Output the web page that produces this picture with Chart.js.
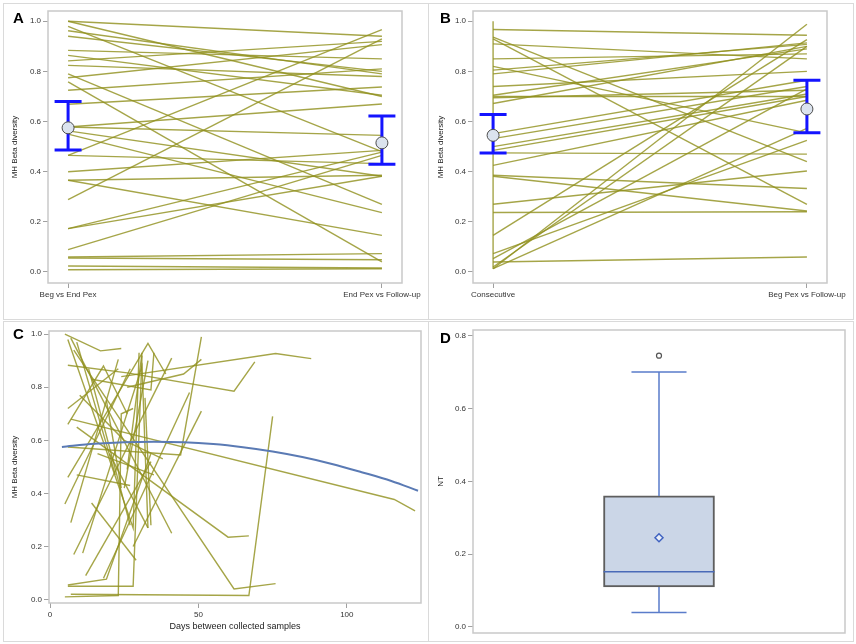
<!DOCTYPE html>
<html>
<head>
<meta charset="utf-8">
<script src="https://cdn.jsdelivr.net/npm/chart.js@4.4.0/dist/chart.umd.min.js"></script>
<style>
  body { margin: 0; background: #fff; font-family: "Liberation Sans", Arial, sans-serif; }
  #fig { position: relative; width: 856px; height: 644px; overflow: hidden; }
  .box { position: absolute; box-sizing: border-box; border: 1px solid #dadada; }
  canvas { position: absolute; }
  .tag { position: absolute; font: bold 15px/15px "Liberation Sans", Arial, sans-serif; color: #000; }
</style>
</head>
<body>
<div id="fig">
  <div class="box" style="left:3px;top:3px;width:426px;height:317px"></div>
  <div class="box" style="left:428px;top:3px;width:426px;height:317px"></div>
  <div class="box" style="left:3px;top:321px;width:426px;height:321px"></div>
  <div class="box" style="left:428px;top:321px;width:426px;height:321px"></div>
  <canvas id="chartA" width="428" height="320" style="left:0;top:0"></canvas>
  <canvas id="chartB" width="428" height="320" style="left:428px;top:0"></canvas>
  <canvas id="chartC" width="428" height="324" style="left:0;top:320px"></canvas>
  <canvas id="chartD" width="428" height="324" style="left:428px;top:320px"></canvas>
  <div class="tag" style="left:13px;top:10px">A</div>
  <div class="tag" style="left:440px;top:10px">B</div>
  <div class="tag" style="left:13px;top:326px">C</div>
  <div class="tag" style="left:440px;top:330px">D</div>
</div>
<script>
// ---- panel A: MH beta diversity, paired comparisons
const aLabels = ["Beg vs End Pex", "End Pex vs Follow-up"];
const aBeg = [1.00, 1.00, 0.98, 0.962, 0.94, 0.884, 0.864, 0.842, 0.824, 0.79, 0.775, 0.758, 0.725, 0.669,
  0.578, 0.578, 0.563, 0.55, 0.465, 0.465, 0.40, 0.366, 0.366, 0.289, 0.173, 0.173, 0.089, 0.06, 0.056, 0.024, 0.009];
const aEnd = [0.94, 0.70, 0.48, 0.79, 0.80, 0.85, 0.705, 0.92, 0.78, 0.27, 0.907, 0.04, 0.81, 0.738,
  0.545, 0.67, 0.382, 0.237, 0.967, 0.432, 0.485, 0.146, 0.386, 0.93, 0.478, 0.382, 0.465, 0.073, 0.049, 0.016, 0.013];
const aMean = [0.575, 0.515];
const aLow = [0.487, 0.43];
const aHigh = [0.68, 0.622];

// ---- panel B
const bLabels = ["Consecutive", "Beg Pex vs Follow-up"];
const bBeg = [0.967, 0.937, 0.93, 0.91, 0.85, 0.82, 0.805, 0.79, 0.74, 0.705, 0.695, 0.672, 0.552, 0.532, 0.50,
  0.485, 0.475, 0.425, 0.386, 0.382, 0.27, 0.237, 0.146, 0.073, 0.053, 0.04, 0.02, 0.013, 0.013, 0.70];
const bEnd = [0.944, 0.44, 0.27, 0.85, 0.87, 0.555, 0.908, 0.914, 0.80, 0.89, 0.725, 0.90, 0.765, 0.74, 0.71,
  0.70, 0.47, 0.685, 0.333, 0.243, 0.403, 0.24, 0.927, 0.525, 0.73, 0.06, 0.90, 0.988, 0.573, 0.70];
const bConsecutiveSpan = [1.0, 0.013];
const bMean = [0.545, 0.65];
const bLow = [0.475, 0.555];
const bHigh = [0.628, 0.765];

// ---- panel C: beta diversity against days between samples
const cDays = [
  [5, 17, 24], [6, 28, 30], [7, 41], [6, 26, 62, 69], [26, 45, 51], [24, 76, 88], [6, 33, 39], [8, 41],
  [6, 28, 31], [5, 23, 24, 28], [7, 67, 75], [9, 60, 67], [8, 62, 76], [6, 44, 51], [28, 51], [7, 116, 123],
  [5, 27], [7, 23], [14, 29], [12, 34], [11, 31, 33], [13, 27], [18, 47], [25, 33], [14, 34, 35], [6, 18, 26],
  [9, 22], [26, 31], [10, 25, 38], [16, 35], [9, 27], [19, 24], [6, 23], [6, 19, 34], [32, 34], [20, 33]
];
const cVals = [
  [1.0, 0.937, 0.946], [0.98, 0.27, 0.93], [0.985, 0.25], [0.883, 0.854, 0.785, 0.896], [0.80, 0.85, 0.905],
  [0.84, 0.927, 0.908], [0.46, 0.965, 0.85], [0.17, 0.91], [0.05, 0.05, 0.92], [0.01, 0.015, 0.70, 0.72],
  [0.02, 0.015, 0.69], [0.65, 0.235, 0.24], [0.94, 0.04, 0.06], [0.575, 0.545, 0.99], [0.2, 0.71],
  [0.68, 0.377, 0.334], [0.36, 0.87], [0.29, 0.905], [0.364, 0.148], [0.09, 0.52], [0.175, 0.88, 0.27],
  [0.87, 0.28], [0.08, 0.78], [0.42, 0.9], [0.83, 0.79, 0.93], [0.66, 0.88, 0.70], [0.97, 0.47], [0.49, 0.93],
  [0.77, 0.6, 0.53], [0.55, 0.47], [0.47, 0.43], [0.75, 0.42], [0.72, 0.87], [0.055, 0.077, 0.55], [0.76, 0.28],
  [0.55, 0.27]
];
const cFitDays = [4, 15, 25, 35, 45, 55, 65, 75, 85, 95, 105, 115, 124];
const cFitVals = [0.575, 0.587, 0.593, 0.595, 0.593, 0.586, 0.574, 0.558, 0.537, 0.511, 0.48, 0.447, 0.41];
const cDayTicks = [0, 50, 100];

// ---- panel D: NT box plot
const ntQ1 = 0.11, ntMedian = 0.152, ntQ3 = 0.36;
const ntWhiskerLow = 0.04, ntWhiskerHigh = 0.70;
const ntMean = 0.245;
const ntOutliers = [0.745];

const betaTicks = [0, 0.2, 0.4, 0.6, 0.8, 1.0];
const ntTicks = [0, 0.2, 0.4, 0.6, 0.8];

const olive = "rgba(145,145,32,0.82)";
const tickFont = { family: "'Liberation Sans', Arial, sans-serif", size: 8 };
const titleFont = { family: "'Liberation Sans', Arial, sans-serif", size: 8 };

const framePlugin = {
  id: "frame",
  beforeDatasetsDraw(chart) {
    const { ctx, chartArea: a } = chart;
    ctx.save();
    ctx.strokeStyle = "#c9c9c9";
    ctx.lineWidth = 1.5;
    ctx.strokeRect(a.left, a.top, a.right - a.left, a.bottom - a.top);
    ctx.restore();
  }
};

function valueAxis(title, min, max, ticks, width) {
  return {
    type: "linear", min, max,
    afterBuildTicks: s => { s.ticks = ticks.map(v => ({ value: v })); },
    afterFit: s => { s.width = width; },
    ticks: { font: tickFont, color: "#333", padding: 2, callback: v => v.toFixed(1) },
    grid: { drawOnChartArea: false, tickLength: 5, color: "#a0a0a0" },
    border: { display: false },
    title: { display: true, text: title, font: titleFont, color: "#222", padding: { top: 4, bottom: 0 } }
  };
}

function pairAxis(labels, height) {
  return {
    type: "linear", min: -0.064, max: 1.064,
    afterBuildTicks: s => { s.ticks = labels.map((l, i) => ({ value: i })); },
    afterFit: s => { s.height = height; },
    ticks: { font: tickFont, color: "#333", padding: 2, maxRotation: 0, autoSkip: false, callback: (v, i) => labels[i] },
    grid: { drawOnChartArea: false, tickLength: 5, color: "#a0a0a0" },
    border: { display: false }
  };
}

function pairDatasets(beg, end) {
  return beg.map((b, i) => ({
    data: [{ x: 0, y: b }, { x: 1, y: end[i] }],
    borderColor: olive, borderWidth: 1.4, pointRadius: 0, order: 10
  }));
}

function errorBarDatasets(means, lows, highs) {
  const capHalf = 0.043;
  const segs = [];
  means.forEach((m, i) => {
    segs.push({ x: i, y: lows[i] }, { x: i, y: highs[i] }, { x: i, y: null },
      { x: i - capHalf, y: highs[i] }, { x: i + capHalf, y: highs[i] }, { x: i, y: null },
      { x: i - capHalf, y: lows[i] }, { x: i + capHalf, y: lows[i] }, { x: i, y: null });
  });
  return [
    { data: means.map((m, i) => ({ x: i, y: m })), showLine: false, pointRadius: 6,
      pointBackgroundColor: "#dbe3ee", pointBorderColor: "#4d4d4d", pointBorderWidth: 1, order: 1 },
    { data: segs, borderColor: "#1414ff", borderWidth: 3, pointRadius: 0, order: 2 }
  ];
}

function baseOptions(padding, x, y) {
  return {
    responsive: false, animation: false,
    layout: { padding },
    plugins: { legend: { display: false }, tooltip: { enabled: false } },
    scales: { x, y }
  };
}

new Chart(document.getElementById("chartA"), {
  type: "line",
  data: { datasets: [...errorBarDatasets(aMean, aLow, aHigh), ...pairDatasets(aBeg, aEnd)] },
  options: baseOptions({ left: 6, top: 11, right: 26, bottom: 0 },
    pairAxis(aLabels, 37), valueAxis("MH Beta diversity", -0.044, 1.041, betaTicks, 42)),
  plugins: [framePlugin]
});

new Chart(document.getElementById("chartB"), {
  type: "line",
  data: {
    datasets: [
      ...errorBarDatasets(bMean, bLow, bHigh),
      { data: bConsecutiveSpan.map(v => ({ x: 0, y: v })), borderColor: olive, borderWidth: 1.4, pointRadius: 0, order: 9 },
      ...pairDatasets(bBeg, bEnd)
    ]
  },
  options: baseOptions({ left: 4, top: 11, right: 29, bottom: 0 },
    pairAxis(bLabels, 37), valueAxis("MH Beta diversity", -0.044, 1.041, betaTicks, 41)),
  plugins: [framePlugin]
});

new Chart(document.getElementById("chartC"), {
  type: "line",
  data: {
    datasets: [
      { data: cFitDays.map((d, i) => ({ x: d, y: cFitVals[i] })), borderColor: "#5a7ab4", borderWidth: 2,
        pointRadius: 0, tension: 0.4, cubicInterpolationMode: "monotone", order: 1 },
      ...cDays.map((days, k) => ({
        data: days.map((d, i) => ({ x: d, y: cVals[k][i] })),
        borderColor: olive, borderWidth: 1.4, pointRadius: 0, order: 10
      }))
    ]
  },
  options: baseOptions({ left: 6, top: 11, right: 7, bottom: 8 },
    {
      type: "linear", min: -0.35, max: 125,
      afterBuildTicks: s => { s.ticks = cDayTicks.map(v => ({ value: v })); },
      afterFit: s => { s.height = 33; },
      ticks: { font: tickFont, color: "#333", padding: 2 },
      grid: { drawOnChartArea: false, tickLength: 5, color: "#a0a0a0" },
      border: { display: false },
      title: { display: true, text: "Days between collected samples", color: "#222",
        font: { family: "'Liberation Sans', Arial, sans-serif", size: 9 }, padding: { top: 0, bottom: 4 } }
    },
    valueAxis("MH Beta diversity", -0.013, 1.012, betaTicks, 43)),
  plugins: [framePlugin]
});

const boxHalf = 0.298, capHalfD = 0.148;
new Chart(document.getElementById("chartD"), {
  type: "line",
  data: {
    datasets: [
      { type: "scatter", data: [{ x: 0, y: ntMean }], pointStyle: "rectRot", pointRadius: 4,
        pointBackgroundColor: "#e8eef8", pointBorderColor: "#3f62c0", pointBorderWidth: 1.5, order: 1 },
      { type: "scatter", data: ntOutliers.map(v => ({ x: 0, y: v })), pointRadius: 2.5,
        pointBackgroundColor: "#fff", pointBorderColor: "#555", pointBorderWidth: 1.2, order: 1 },
      { data: [{ x: -boxHalf, y: ntMedian }, { x: boxHalf, y: ntMedian }], borderColor: "#4a6ab8",
        borderWidth: 1.5, pointRadius: 0, order: 2 },
      { data: [
          { x: 0, y: ntQ3 }, { x: 0, y: ntWhiskerHigh }, { x: 0, y: null },
          { x: -capHalfD, y: ntWhiskerHigh }, { x: capHalfD, y: ntWhiskerHigh }, { x: 0, y: null },
          { x: 0, y: ntQ1 }, { x: 0, y: ntWhiskerLow }, { x: 0, y: null },
          { x: -capHalfD, y: ntWhiskerLow }, { x: capHalfD, y: ntWhiskerLow }
        ], borderColor: "#5a7cca", borderWidth: 1.5, pointRadius: 0, order: 3 },
      { type: "bar", data: [{ x: 0, y: [ntQ1, ntQ3] }], barThickness: 111, backgroundColor: "#cbd6e7",
        borderColor: "#5e5e5e", borderWidth: 2, borderSkipped: false, order: 5 }
    ]
  },
  options: baseOptions({ left: 4, top: 10, right: 11, bottom: 11 },
    { type: "linear", min: -1, max: 1, display: false, offset: false },
    valueAxis("NT", -0.0165, 0.8156, ntTicks, 41)),
  plugins: [framePlugin]
});
</script>
</body>
</html>
